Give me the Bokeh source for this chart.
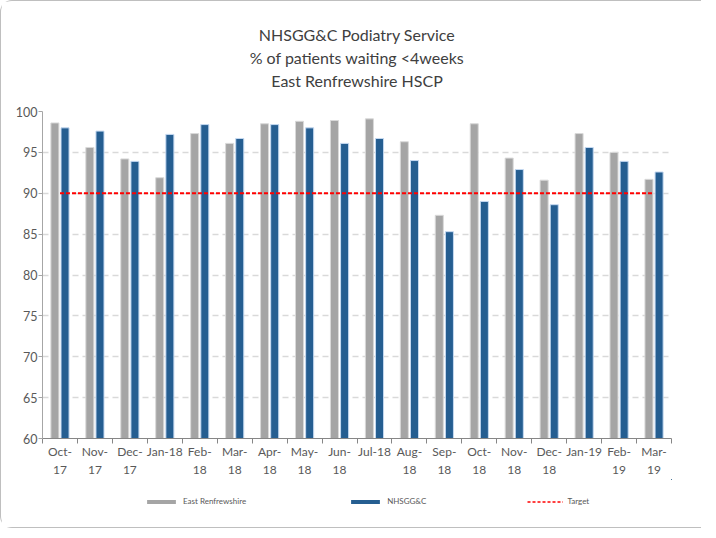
from bokeh.plotting import figure
from bokeh.layouts import column
from bokeh.models import (ColumnDataSource, FixedTicker, SingleIntervalTicker, Legend,
                          LegendItem, Title, Range1d)
from bokeh.transform import dodge
from bokeh.embed import file_html
from bokeh.resources import INLINE

months = ["Oct-17", "Nov-17", "Dec-17", "Jan-18", "Feb-18", "Mar-18", "Apr-18", "May-18",
          "Jun-18", "Jul-18", "Aug-18", "Sep-18", "Oct-18", "Nov-18", "Dec-18", "Jan-19",
          "Feb-19", "Mar-19"]
tick_labels = ["Oct-\n17", "Nov-\n17", "Dec-\n17", "Jan-18", "Feb-\n18", "Mar-\n18", "Apr-\n18",
               "May-\n18", "Jun-\n18", "Jul-18", "Aug-\n18", "Sep-\n18", "Oct-\n18", "Nov-\n18",
               "Dec-\n18", "Jan-19", "Feb-\n19", "Mar-\n19"]
east_renfrewshire = [98.6, 95.6, 94.2, 91.9, 97.3, 96.1, 98.5, 98.8, 98.9, 99.1, 96.3, 87.3,
                     98.5, 94.3, 91.6, 97.3, 95.0, 91.7]
nhsggc = [98.0, 97.6, 93.9, 97.2, 98.4, 96.7, 98.4, 98.0, 96.1, 96.7, 94.0, 85.3,
          89.0, 92.9, 88.6, 95.6, 93.9, 92.6]
target = [90] * len(months)
series_names = ["East Renfrewshire", "NHSGG&C", "Target"]
title_lines = ["NHSGG&C Podiatry Service", "% of patients waiting <4weeks", "East Renfrewshire HSCP"]

FONT = "Lato"
TEXT = "#595959"
GREY, BLUE, RED = "#A5A5A5", "#255E91", "#FF0000"

idx = list(range(len(months)))
src = ColumnDataSource(dict(x=idx, er=east_renfrewshire, gg=nhsggc, t=target))

p = figure(frame_width=629, frame_height=327, output_backend="svg", toolbar_location=None,
           x_range=Range1d(-0.5, len(months) - 0.5), y_range=Range1d(60, 100),
           min_border_left=41, min_border_right=30, min_border_top=0, min_border_bottom=0,
           title=None)
p.outline_line_color = None
p.background_fill_color = "white"

r1 = p.vbar(x=dodge("x", -0.145), top="er", bottom=60, width=0.23, source=src,
            fill_color=GREY, line_color="#D9D9D9", line_width=1)
r2 = p.vbar(x=dodge("x", 0.145), top="gg", bottom=60, width=0.23, source=src,
            fill_color=BLUE, line_color="#C5D9F1", line_width=1)
r3 = p.line(x="x", y="t", source=src, line_color=RED, line_width=2, line_dash="4 2")

# axes
xa = p.xaxis[0]
xa.ticker = FixedTicker(ticks=idx, minor_ticks=[i - 0.5 for i in range(len(months) + 1)])
xa.major_label_overrides = {i: lab for i, lab in enumerate(tick_labels)}
xa.major_tick_out = 0
xa.major_tick_in = 0
xa.minor_tick_out = 5
xa.minor_tick_in = 0
xa.minor_tick_line_color = "#868686"
xa.axis_line_color = "#868686"
xa.major_label_text_font = FONT
xa.major_label_text_font_size = "12px"
xa.major_label_text_color = TEXT
xa.major_label_standoff = 0

ya = p.yaxis[0]
ya.ticker = SingleIntervalTicker(interval=5)
ya.major_tick_out = 4
ya.major_tick_in = 0
ya.minor_tick_out = 0
ya.minor_tick_in = 0
ya.major_tick_line_color = "#A6A6A6"
ya.axis_line_color = "#A6A6A6"
ya.major_label_text_font = FONT
ya.major_label_text_font_size = "12.5px"
ya.major_label_text_color = TEXT
ya.major_label_standoff = 1

p.xgrid.grid_line_color = None
p.ygrid.grid_line_color = "#D9D9D9"
p.ygrid.grid_line_dash = "6 4"
p.ygrid.grid_line_width = 1.5

# spacer between titles and the plot frame
p.add_layout(Title(text=" ", text_font_size="1px", standoff=18), "above")
for line in reversed(title_lines):
    t = Title(text=line, align="center", text_font=FONT, text_font_size="16px",
              text_color="#404040", text_font_style="normal", standoff=2, offset=0)
    p.add_layout(t, "above")
# outer spacer above the titles
p.add_layout(Title(text=" ", text_font_size="1px", standoff=17), "above")

# legend strip below the chart (its glyph renderers sit outside the visible range)
pl = figure(width=700, height=48, output_backend="svg", toolbar_location=None,
            x_axis_type=None, y_axis_type=None,
            x_range=Range1d(-100, -99), y_range=Range1d(-100, -99),
            min_border_left=0, min_border_right=0, min_border_top=0, min_border_bottom=0)
pl.grid.visible = False
pl.outline_line_color = None
l1 = pl.vbar(x="x", top="er", width=0.23, source=src, fill_color=GREY, line_color=None)
l2 = pl.vbar(x="x", top="gg", width=0.23, source=src, fill_color=BLUE, line_color=None)
l3 = pl.line(x="x", y="t", source=src, line_color=RED, line_width=1.5, line_dash="3 2")

legend = Legend(items=[LegendItem(label=series_names[0], renderers=[l1]),
                       LegendItem(label=series_names[1], renderers=[l2]),
                       LegendItem(label=series_names[2], renderers=[l3])],
                orientation="horizontal", location=(101, 21), spacing=101,
                glyph_width=36, glyph_height=5, label_height=10, label_text_font=FONT,
                label_text_font_size="8px", label_text_color=TEXT,
                border_line_color=None, background_fill_alpha=0, label_standoff=4,
                margin=0, padding=4)
pl.add_layout(legend, "center")

layout = column(p, pl, spacing=0,
                styles={"border-top": "1px solid #bfbfbf", "border-left": "1px solid #bfbfbf",
                        "border-bottom": "1px solid #bfbfbf", "border-top-left-radius": "12px",
                        "border-bottom-left-radius": "12px"})

open("out.html", "w").write(file_html(layout, INLINE))
